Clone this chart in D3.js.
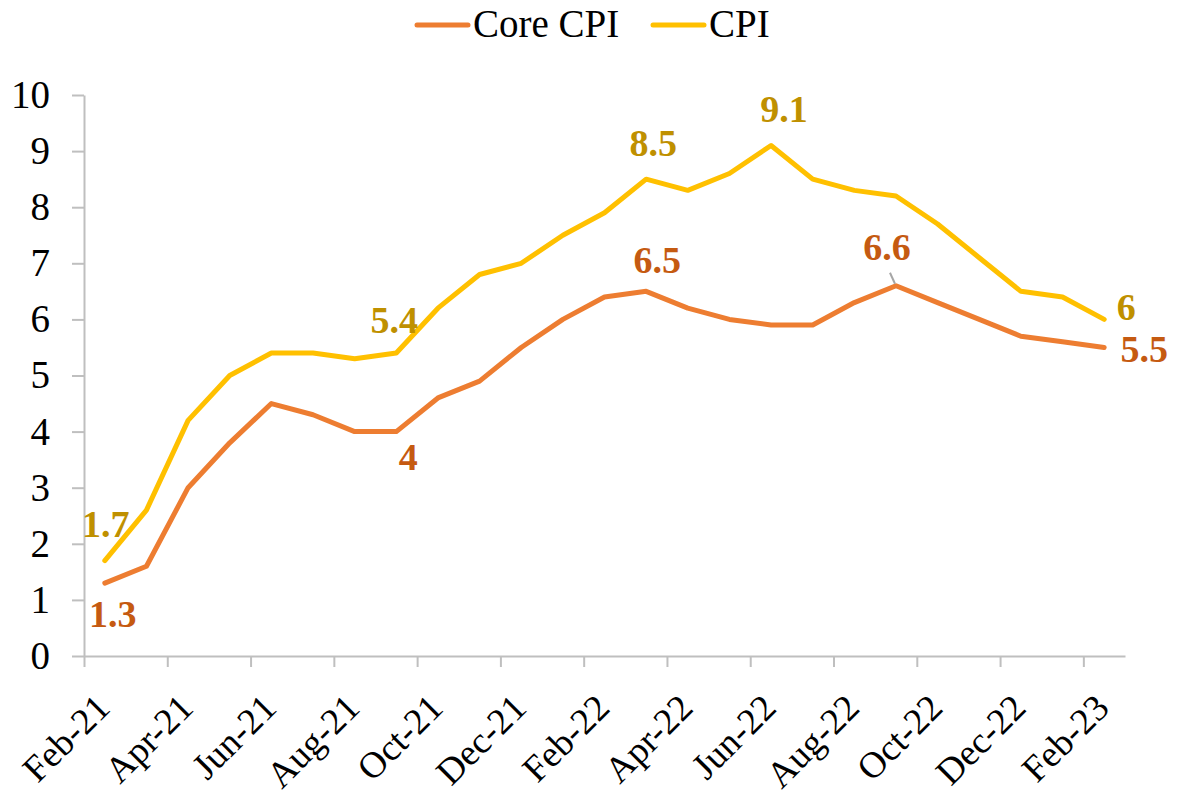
<!DOCTYPE html>
<html>
<head>
<meta charset="utf-8">
<script src="https://cdn.jsdelivr.net/npm/d3@7"></script>
<style>
  body { margin: 0; background: #fff; }
  text { font-family: "Liberation Serif", "Times New Roman", serif; }
</style>
</head>
<body>
<svg id="chart" width="1179" height="796"></svg>
<script>
const months = ['Feb-21', 'Mar-21', 'Apr-21', 'May-21', 'Jun-21', 'Jul-21', 'Aug-21', 'Sep-21',
  'Oct-21', 'Nov-21', 'Dec-21', 'Jan-22', 'Feb-22', 'Mar-22', 'Apr-22', 'May-22', 'Jun-22',
  'Jul-22', 'Aug-22', 'Sep-22', 'Oct-22', 'Nov-22', 'Dec-22', 'Jan-23', 'Feb-23'];

const coreCpi = [1.3, 1.6, 3.0, 3.8, 4.5, 4.3, 4.0, 4.0, 4.6, 4.9, 5.5, 6.0, 6.4, 6.5,
  6.2, 6.0, 5.9, 5.9, 6.3, 6.6, 6.3, 6.0, 5.7, 5.6, 5.5];

const cpi = [1.7, 2.6, 4.2, 5.0, 5.4, 5.4, 5.3, 5.4, 6.2, 6.8, 7.0, 7.5, 7.9, 8.5,
  8.3, 8.6, 9.1, 8.5, 8.3, 8.2, 7.7, 7.1, 6.5, 6.4, 6.0];

const yTicks = [0, 1, 2, 3, 4, 5, 6, 7, 8, 9, 10];

// which points carry a value label
const coreLabelIdx = [0, 7, 13, 19, 24];
const cpiLabelIdx = [0, 7, 13, 16, 24];

const series = [
  { name: 'Core CPI', values: coreCpi, labels: coreLabelIdx, color: '#ED7D31', labelColor: '#C55A11' },
  { name: 'CPI', values: cpi, labels: cpiLabelIdx, color: '#FFC000', labelColor: '#BF9000' }
];

// label nudges (text centre / baseline relative to the point)
const labelOffsets = {
  'Core CPI': { 0: [8, 44], 7: [12, 38], 13: [11, -18], 19: [-9, -26], 24: [40, 15] },
  'CPI': { 0: [1, -24], 7: [-2, -20], 13: [7, -23], 16: [13, -23], 24: [22, 1] }
};

const fontSize = 39;
const labelSize = 38;
const catSize = 37;

const svg = d3.select('#chart');
const mLeft = 84, mRight = 1125, mTop = 95, mBottom = 656;

const x = d3.scaleLinear().domain([-0.5, months.length - 0.5]).range([mLeft, mRight]);
const y = d3.scaleLinear().domain([0, 10]).range([mBottom, mTop]);

// y axis
const yAxis = svg.append('g')
  .attr('transform', `translate(${mLeft},0)`)
  .call(d3.axisLeft(y).tickValues(yTicks).tickSize(12).tickPadding(22).tickSizeOuter(0));
yAxis.select('.domain').attr('stroke', '#BFBFBF').attr('stroke-width', 2);
yAxis.selectAll('.tick line').attr('stroke', '#BFBFBF').attr('stroke-width', 2);
yAxis.selectAll('.tick text')
  .attr('font-family', '"Liberation Serif", serif')
  .attr('font-size', fontSize)
  .attr('fill', '#000');

// x axis: ticks between categories, every second boundary
const xAxis = svg.append('g')
  .attr('transform', `translate(0,${mBottom})`)
  .call(d3.axisBottom(x).tickValues(d3.range(-0.5, months.length - 1, 2))
    .tickFormat('').tickSize(11).tickSizeOuter(0));
xAxis.select('.domain').attr('stroke', '#BFBFBF').attr('stroke-width', 2);
xAxis.selectAll('.tick line').attr('stroke', '#BFBFBF').attr('stroke-width', 2);

svg.append('g')
  .selectAll('text')
  .data(months.filter((d, i) => i % 2 === 0))
  .join('text')
  .attr('transform', (d, i) => `translate(${x(i * 2) + 7},${mBottom + 54}) rotate(-45)`)
  .attr('text-anchor', 'end')
  .attr('font-size', catSize)
  .attr('fill', '#000')
  .text(d => d);

// lines
const line = d3.line()
  .x((d, i) => x(i))
  .y(d => y(d));

svg.append('g')
  .selectAll('path')
  .data(series)
  .join('path')
  .attr('fill', 'none')
  .attr('stroke', d => d.color)
  .attr('stroke-width', 5)
  .attr('stroke-linejoin', 'round')
  .attr('stroke-linecap', 'round')
  .attr('d', d => line(d.values));

// leader line for 6.6
svg.append('line')
  .attr('x1', x(19) - 6).attr('y1', y(coreCpi[19]) - 13)
  .attr('x2', x(19) - 1).attr('y2', y(coreCpi[19]) - 2)
  .attr('stroke', '#A6A6A6')
  .attr('stroke-width', 2);

// value labels
series.forEach(s => {
  svg.append('g')
    .selectAll('text')
    .data(s.labels)
    .join('text')
    .attr('x', i => x(i) + labelOffsets[s.name][i][0])
    .attr('y', i => y(s.values[i]) + labelOffsets[s.name][i][1])
    .attr('text-anchor', 'middle')
    .attr('font-size', labelSize)
    .attr('font-weight', 'bold')
    .attr('fill', s.labelColor)
    .text(i => d3.format('~g')(s.values[i]));
});

// legend
const legend = svg.append('g');
const legendItems = [
  { s: series[0], x0: 417 },
  { s: series[1], x0: 653 }
];
legendItems.forEach(it => {
  legend.append('line')
    .attr('x1', it.x0).attr('x2', it.x0 + 51)
    .attr('y1', 25).attr('y2', 25)
    .attr('stroke', it.s.color)
    .attr('stroke-width', 5)
    .attr('stroke-linecap', 'round');
  legend.append('text')
    .attr('x', it.x0 + 56)
    .attr('y', 37)
    .attr('font-size', fontSize)
    .attr('fill', '#000')
    .text(it.s.name);
});
</script>
</body>
</html>
